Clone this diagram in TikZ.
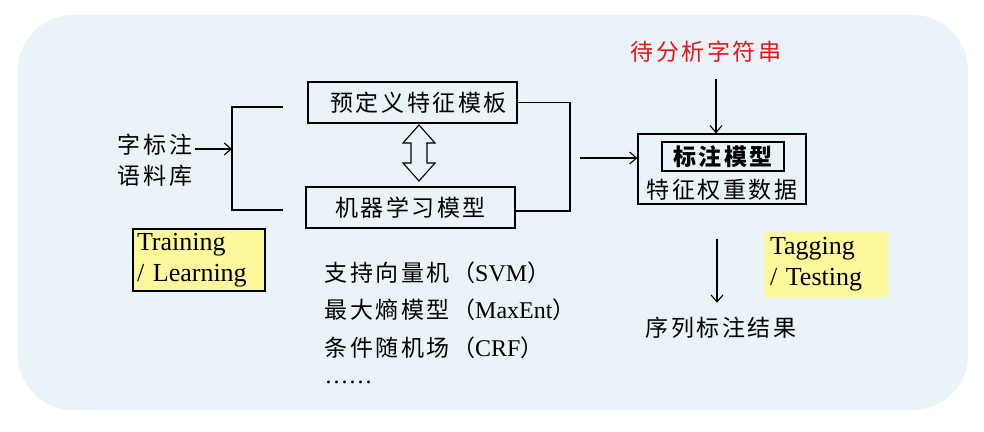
\documentclass[tikz,border=0pt]{standalone}
\usepackage{fontspec}
\setmainfont{Liberation Serif}
\newfontfamily\cjk[LetterSpace=11]{Noto Sans CJK SC}
\newcommand\zhsize{\cjk\fontsize{23}{31}\selectfont}
\usetikzlibrary{arrows.meta}
\definecolor{bgblue}{RGB}{234,243,248}
\definecolor{tagyellow}{RGB}{252,248,155}
\definecolor{srcred}{RGB}{230,20,25}
\begin{document}
\begin{tikzpicture}[x=1pt,y=-1pt,
  line width=1.1pt,
  box/.style={draw, line width=1.2pt, inner sep=0pt},
  zh/.style={font=\zhsize, inner sep=2pt},
  en/.style={font=\fontsize{26}{31}\selectfont},
  arr/.style={-{Straight Barb[length=7pt,width=12pt]}, line width=1.1pt},
  listline/.style={anchor=west, inner sep=0pt, font=\fontsize{24}{26}\selectfont}]
\useasboundingbox (0,0) rectangle (984,431);
\fill[bgblue, rounded corners=55pt] (18,15) rectangle (968,410);

% training side
\node[box, zh, minimum width=209pt, minimum height=41pt] (tpl) at (412.5,102.5) {\hspace{12pt}预定义特征模板};
\node[box, zh, minimum width=209pt, minimum height=41pt] (ml) at (410.5,207.5) {机器学习模型};
\node[zh, align=center] (corpus) at (155,160) {字标注\\语料库};

\coordinate (lbTop) at (232,107);
\coordinate (lbBot) at (232,210);
\coordinate (lbMid) at (232,149);
\coordinate (lbTopEnd) at (283,107);
\coordinate (lbBotEnd) at (283,210);
\draw (lbTopEnd) -- (lbTop) -- (lbBot) -- (lbBotEnd);
\draw[arr] (corpus.east |- lbMid) -- (lbMid);

\coordinate (rbTop) at (570,102.5);
\coordinate (rbBot) at (570,211);
\coordinate (rbMid) at (580,158);
\draw (tpl.east) -- (rbTop) -- (rbBot) -- (ml.east |- rbBot);

% double arrow between boxes
\coordinate (daTop) at (419,125);
\coordinate (daBot) at (419,181);
\draw[line width=1.1pt, fill=bgblue]
  (daTop) -- ++(16,18) -- ++(-8,0) -- ++(0,20) -- ++(8,0) -- (daBot)
  -- ++(-16,-18) -- ++(8,0) -- ++(0,-20) -- ++(-8,0) -- cycle;

% tagging side
\node[box, minimum width=168pt, minimum height=70pt] (model) at (722,169) {};
\node[box, zh, font=\zhsize\bfseries, minimum width=122pt, minimum height=29pt] (inner) at (723,156.5) {标注模型};
\node[zh] (weights) at (722,190) {特征权重数据};
\node[zh, text=srcred] (src) at (706,52) {待分析字符串};
\node[zh] (result) at (721,328) {序列标注结果};

\draw[arr] (rbMid) -- (model.west |- rbMid);
\draw[arr] ([xshift=-6pt]model.north |- src.south) ++(0,14) -- ([xshift=-6pt]model.north);
\draw[arr] ([xshift=-5pt,yshift=-34pt]model.south) -- ([xshift=-4pt,yshift=12pt]result.north);

% labels
\node[draw, line width=1.2pt, fill=tagyellow, en, text width=124pt, inner sep=4pt, align=left, minimum height=60pt] (train) at (199,260) {Training\\/ Learning};
\node[fill=tagyellow, en, text width=112pt, inner sep=6pt, align=left, minimum height=61pt] (tag) at (826,264.5) {Tagging\\/ Testing};

% model list
\node[listline] (svm) at (324,273) {{\zhsize 支持向量机（}SVM{\zhsize ）}};
\node[listline] (maxent) at (324,310) {{\zhsize 最大熵模型（}MaxEnt{\zhsize ）}};
\node[listline] (crf) at (324,348) {{\zhsize 条件随机场（}CRF{\zhsize ）}};
\node[listline] (dots) at (324,382) {……};
\end{tikzpicture}
\end{document}
